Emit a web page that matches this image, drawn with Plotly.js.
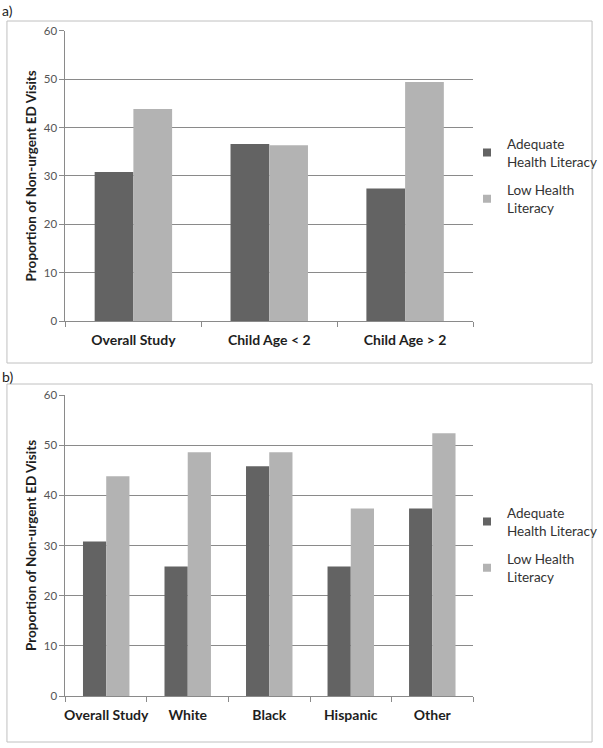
<!DOCTYPE html>
<html><head><meta charset="utf-8">
<script src="https://cdn.plot.ly/plotly-3.0.1.min.js"></script>
<style>html,body{margin:0;padding:0;background:#fff}#chart{width:603px;height:748px}</style>
</head><body><div id="chart"></div>
<script>
// Panel a
const catsA = ["Overall Study", "Child Age < 2", "Child Age > 2"];
const adequateA = [30.8, 36.6, 27.4];
const lowA = [43.8, 36.3, 49.4];
// Panel b
const catsB = ["Overall Study", "White", "Black", "Hispanic", "Other"];
const adequateB = [30.8, 25.8, 45.8, 25.8, 37.4];
const lowB = [43.8, 48.6, 48.6, 37.4, 52.4];
const seriesNames = ["Adequate<br>Health Literacy", "Low Health<br>Literacy"];
const yTitle = "Proportion of Non-urgent ED Visits";

const DARK = "#636363", LIGHT = "#b3b3b3";
const COLORS = [DARK, LIGHT];
const FONT = "Lato, 'Open Sans', sans-serif";

const traces = [
  {type:"bar", x:catsA, y:adequateA, name:seriesNames[0], marker:{color:DARK}, xaxis:"x", yaxis:"y", showlegend:false},
  {type:"bar", x:catsA, y:lowA, name:seriesNames[1], marker:{color:LIGHT}, xaxis:"x", yaxis:"y", showlegend:false},
  {type:"bar", x:catsB, y:adequateB, name:seriesNames[0], marker:{color:DARK}, xaxis:"x2", yaxis:"y2", showlegend:false},
  {type:"bar", x:catsB, y:lowB, name:seriesNames[1], marker:{color:LIGHT}, xaxis:"x2", yaxis:"y2", showlegend:false}
];
// legend entries (small square keys)
[["x","y","legend"],["x2","y2","legend2"]].forEach(([xa,ya,lg])=>{
  seriesNames.forEach((nm,i)=>{
    traces.push({type:"scatter", mode:"markers", x:[null], y:[null], name:nm, xaxis:xa, yaxis:ya,
      legend:lg, legendgroup:lg+"g"+i, marker:{symbol:"square", size:8, color:COLORS[i]}, hoverinfo:"skip"});
  });
});

const xCommon = {
  domain:[66/603, 477/603], showline:true, linecolor:"#8a8a8a", linewidth:1,
  ticks:"outside", tickson:"boundaries", ticklen:5, tickcolor:"#8a8a8a", tickangle:0,
  ticklabelstandoff:6,
  tickfont:{family:FONT, size:14, color:"#1e1e1e", weight:"bold"}, fixedrange:true
};
const yCommon = {
  range:[0,60], dtick:10, showgrid:true, gridcolor:"#8a8a8a", gridwidth:1,
  showline:true, linecolor:"#8a8a8a", ticks:"outside", ticklen:5, tickcolor:"#8a8a8a",
  tickfont:{family:FONT, size:11.5, color:"#555"}, zeroline:false,
  title:{text:yTitle, font:{family:FONT, size:13.5, color:"#1e1e1e", weight:"bold"}, standoff:4}
};
const legendCommon = {
  x:471/603, xanchor:"left", yanchor:"middle", bgcolor:"rgba(0,0,0,0)",
  font:{family:FONT, size:13.5, color:"#333"}, traceorder:"grouped", tracegroupgap:8,
  itemwidth:30
};

const layout = {
  width:603, height:748, margin:{l:0,r:0,t:0,b:0},
  paper_bgcolor:"#fff", plot_bgcolor:"#fff",
  barmode:"group", bargap:0.43, bargroupgap:0,
  xaxis:Object.assign({}, xCommon, {anchor:"y"}),
  yaxis:Object.assign({}, yCommon, {domain:[1-321/748, 1-30.7/748], anchor:"x"}),
  xaxis2:Object.assign({}, xCommon, {anchor:"y2"}),
  yaxis2:Object.assign({}, yCommon, {domain:[1-696/748, 1-395/748], anchor:"x2"}),
  legend:Object.assign({}, legendCommon, {y:1-176/748}),
  legend2:Object.assign({}, legendCommon, {y:1-545/748}),
  shapes:[
    {type:"rect", xref:"paper", yref:"paper", x0:7/603, x1:597/603, y0:1-363/748, y1:1-21/748, line:{color:"#c0c0c0", width:1}},
    {type:"rect", xref:"paper", yref:"paper", x0:7/603, x1:597/603, y0:1-742/748, y1:1-384/748, line:{color:"#c0c0c0", width:1}}
  ],
  annotations:[
    {text:"a)", xref:"paper", yref:"paper", x:0, y:1-11/748, xanchor:"left", yanchor:"middle", showarrow:false, font:{family:FONT, size:14, color:"#222"}},
    {text:"b)", xref:"paper", yref:"paper", x:0, y:1-376/748, xanchor:"left", yanchor:"middle", showarrow:false, font:{family:FONT, size:14, color:"#222"}}
  ]
};

Plotly.newPlot("chart", traces, layout, {staticPlot:true, displayModeBar:false});
</script>
</body></html>
